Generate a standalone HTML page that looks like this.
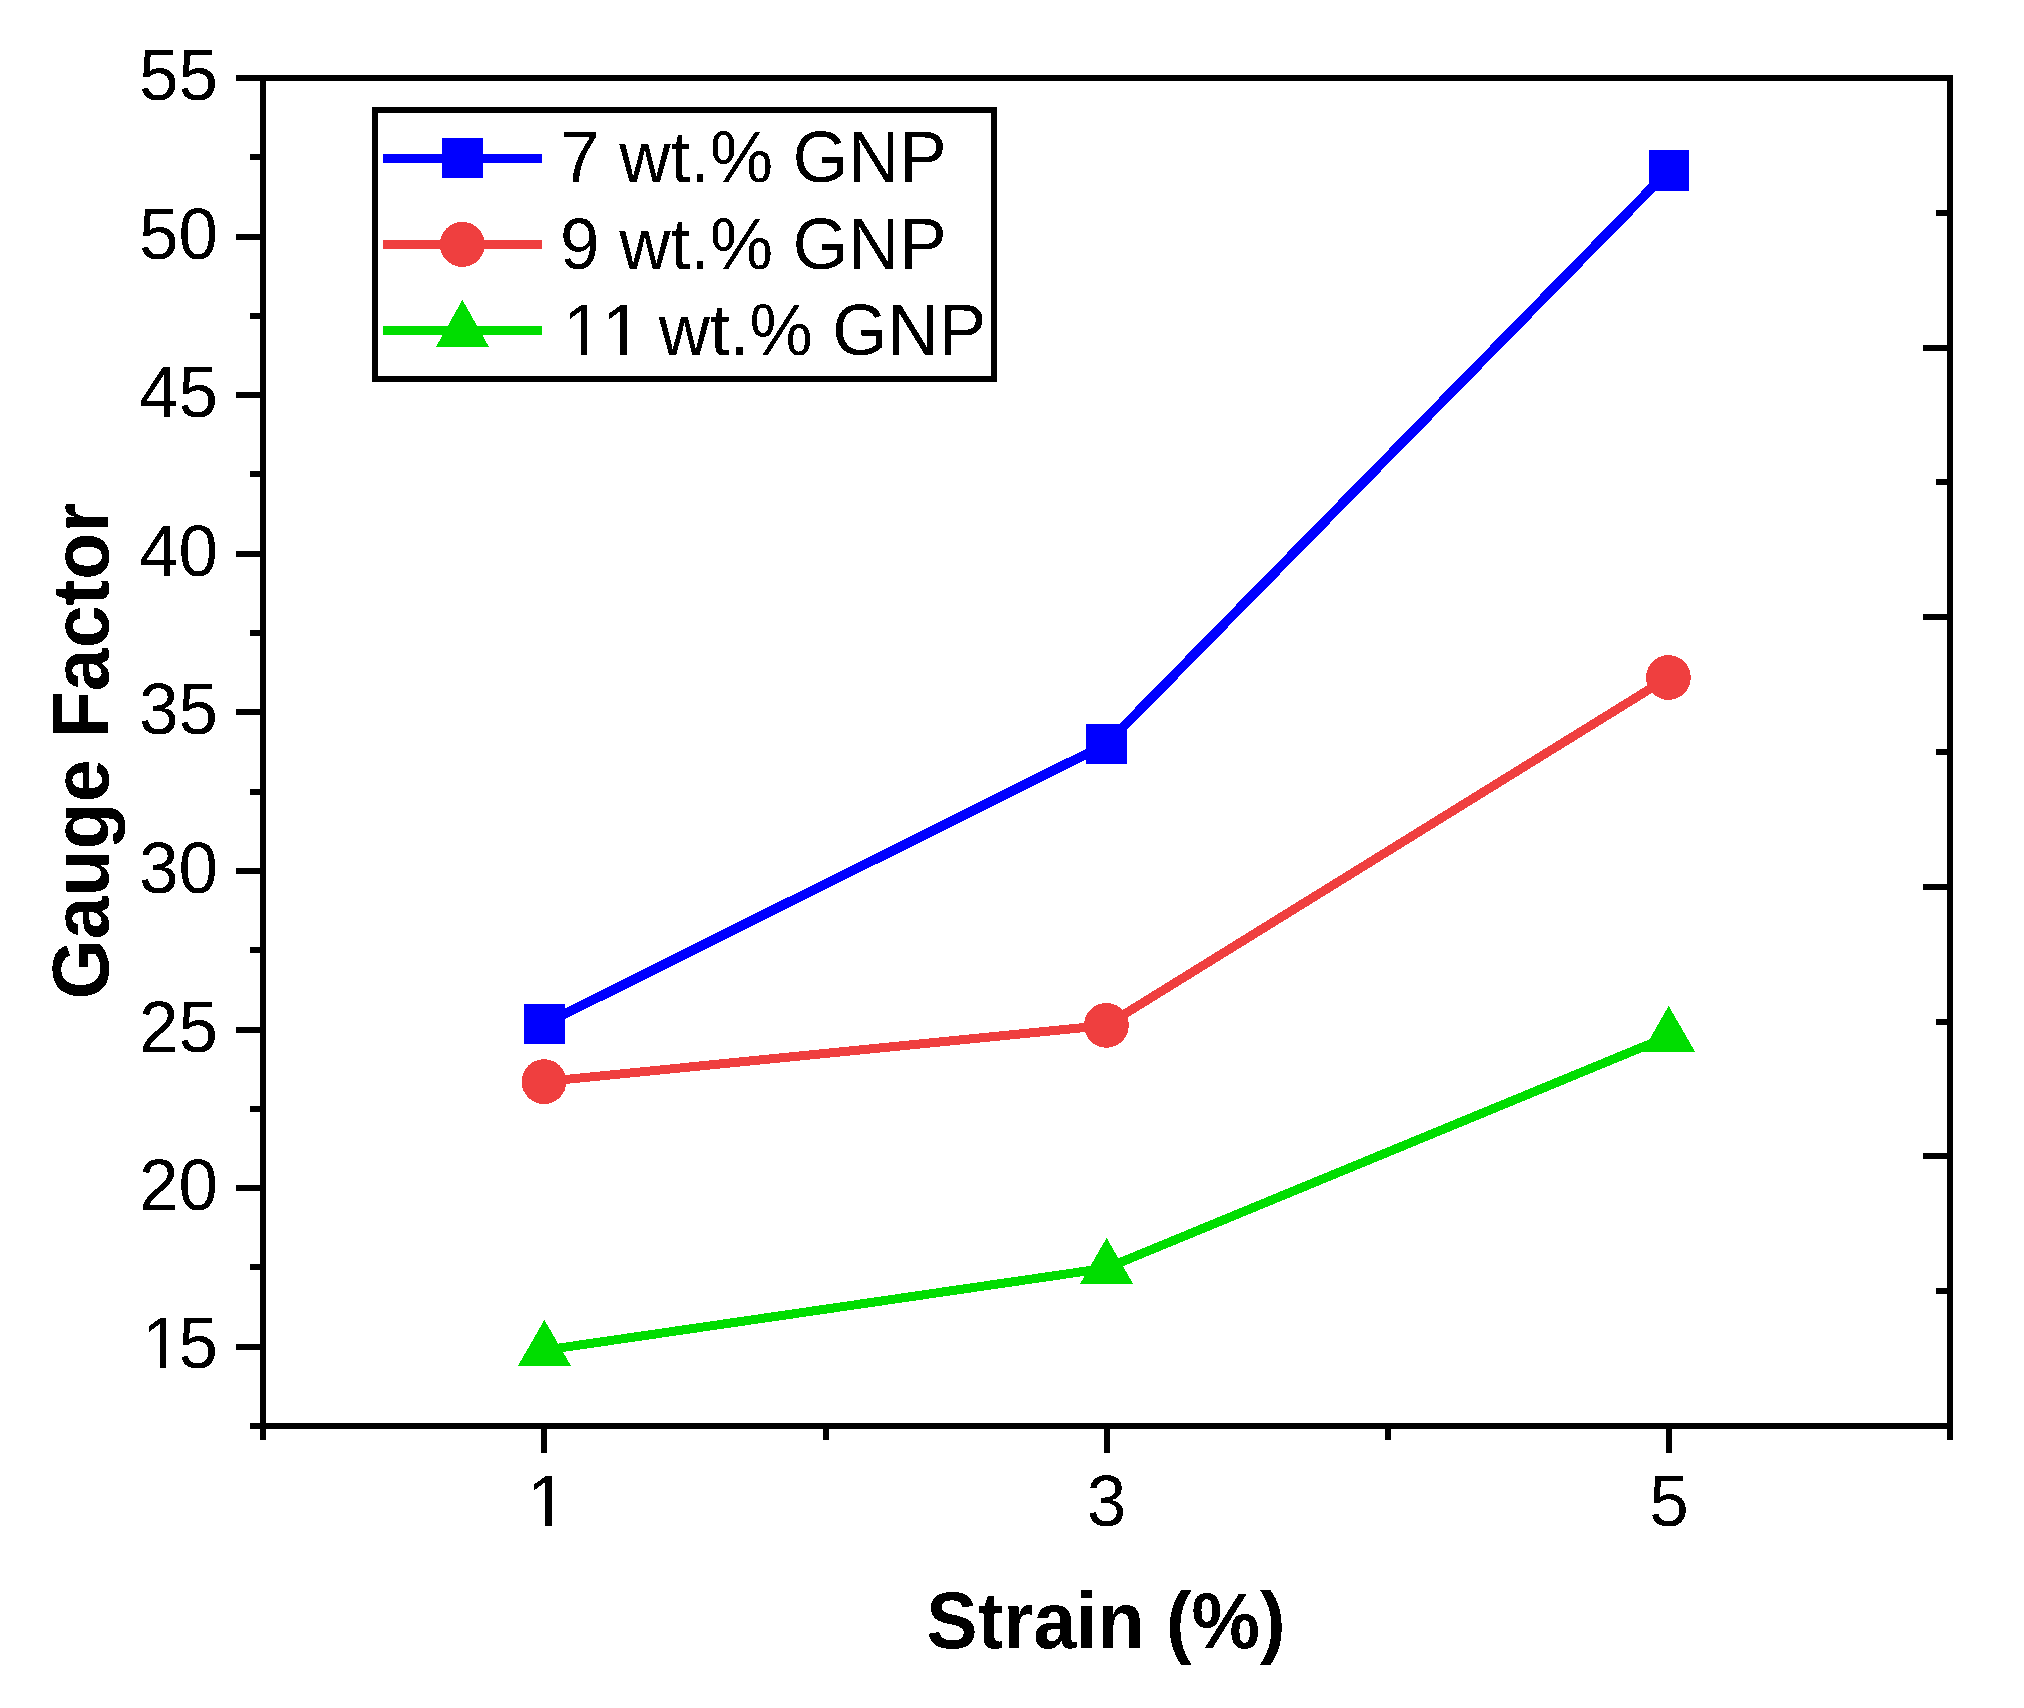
<!DOCTYPE html>
<html><head><meta charset="utf-8"><title>Gauge Factor vs Strain</title>
<style>
html,body{margin:0;padding:0;background:#fff;}
body{width:2024px;height:1708px;overflow:hidden;}
svg{display:block;}
text{font-family:"Liberation Sans",Arial,sans-serif;fill:#000;font-kerning:none;font-feature-settings:"kern" 0;}
</style></head><body>
<svg width="2024" height="1708" viewBox="0 0 2024 1708">
<defs><filter id="bin" x="-5%" y="-5%" width="110%" height="110%" color-interpolation-filters="sRGB"><feComponentTransfer><feFuncA type="discrete" tableValues="0 1"/></feComponentTransfer></filter></defs>
<rect x="0" y="0" width="2024" height="1708" fill="#fff"/>
<g stroke="#000" stroke-width="6" fill="none" shape-rendering="crispEdges">
<rect x="263" y="78" width="1687" height="1348"/>
<line x1="236" y1="78" x2="263" y2="78"/>
<line x1="250" y1="157" x2="263" y2="157"/>
<line x1="236" y1="237" x2="263" y2="237"/>
<line x1="250" y1="316" x2="263" y2="316"/>
<line x1="236" y1="395" x2="263" y2="395"/>
<line x1="250" y1="474" x2="263" y2="474"/>
<line x1="236" y1="554" x2="263" y2="554"/>
<line x1="250" y1="633" x2="263" y2="633"/>
<line x1="236" y1="712" x2="263" y2="712"/>
<line x1="250" y1="792" x2="263" y2="792"/>
<line x1="236" y1="871" x2="263" y2="871"/>
<line x1="250" y1="950" x2="263" y2="950"/>
<line x1="236" y1="1030" x2="263" y2="1030"/>
<line x1="250" y1="1109" x2="263" y2="1109"/>
<line x1="236" y1="1188" x2="263" y2="1188"/>
<line x1="250" y1="1267" x2="263" y2="1267"/>
<line x1="236" y1="1347" x2="263" y2="1347"/>
<line x1="250" y1="1426" x2="263" y2="1426"/>
<line x1="1950" y1="212.7" x2="1936" y2="212.7"/>
<line x1="1950" y1="347.5" x2="1923" y2="347.5"/>
<line x1="1950" y1="482.3" x2="1936" y2="482.3"/>
<line x1="1950" y1="617.1" x2="1923" y2="617.1"/>
<line x1="1950" y1="751.9" x2="1936" y2="751.9"/>
<line x1="1950" y1="886.7" x2="1923" y2="886.7"/>
<line x1="1950" y1="1021.5" x2="1936" y2="1021.5"/>
<line x1="1950" y1="1156.3" x2="1923" y2="1156.3"/>
<line x1="1950" y1="1291.1" x2="1936" y2="1291.1"/>
<line x1="263.0" y1="1426" x2="263.0" y2="1440"/>
<line x1="544.0" y1="1426" x2="544.0" y2="1453"/>
<line x1="826.0" y1="1426" x2="826.0" y2="1440"/>
<line x1="1107.0" y1="1426" x2="1107.0" y2="1453"/>
<line x1="1388.0" y1="1426" x2="1388.0" y2="1440"/>
<line x1="1669.0" y1="1426" x2="1669.0" y2="1453"/>
<line x1="1950.0" y1="1426" x2="1950.0" y2="1440"/>
</g>
<g filter="url(#bin)">
<text transform="translate(142.0,1368.4) scale(1,1.02)" font-size="71" text-anchor="start">1</text>
<text transform="translate(178.5,1368.4) scale(1,1.02)" font-size="71" text-anchor="start">5</text>
<text transform="translate(218.0,1209.9) scale(1,1.02)" font-size="71" text-anchor="end">20</text>
<text transform="translate(218.0,1052.2) scale(1,1.02)" font-size="71" text-anchor="end">25</text>
<text transform="translate(218.0,892.9) scale(1,1.02)" font-size="71" text-anchor="end">30</text>
<text transform="translate(218.0,734.4) scale(1,1.02)" font-size="71" text-anchor="end">35</text>
<text transform="translate(218.0,575.9) scale(1,1.02)" font-size="71" text-anchor="end">40</text>
<text transform="translate(218.0,417.4) scale(1,1.02)" font-size="71" text-anchor="end">45</text>
<text transform="translate(218.0,258.9) scale(1,1.02)" font-size="71" text-anchor="end">50</text>
<text transform="translate(218.0,100.4) scale(1,1.02)" font-size="71" text-anchor="end">55</text>
<text transform="translate(547.2,1526.0) scale(1,1.02)" font-size="71" text-anchor="middle">1</text>
<text transform="translate(1106.5,1526.0) scale(1,1.02)" font-size="71" text-anchor="middle">3</text>
<text transform="translate(1668.9,1526.0) scale(1,1.02)" font-size="71" text-anchor="middle">5</text>
<text transform="translate(1106,1648) scale(1,1.03)" font-size="77" font-weight="bold" text-anchor="middle">Strain (%)</text>
<text transform="translate(108.5,751) rotate(-90) scale(1,1.03)" font-size="77" font-weight="bold" text-anchor="middle">Gauge Factor</text>
</g>
<polyline points="544.3,1350.2 1106.6,1268.1 1668.6,1036.3" fill="none" stroke="#00DD00" stroke-width="9" stroke-linejoin="round" shape-rendering="crispEdges"/>
<polyline points="544.0,1081.6 1106.4,1025.3 1668.4,677.5" fill="none" stroke="#EF3F3F" stroke-width="9" stroke-linejoin="round" shape-rendering="crispEdges"/>
<polyline points="544.5,1024.0 1106.5,744.0 1669.0,170.4" fill="none" stroke="#0000FF" stroke-width="9.7" stroke-linejoin="round" shape-rendering="crispEdges"/>
<rect x="524" y="1004" width="41" height="40" fill="#0000FF" shape-rendering="crispEdges"/>
<rect x="1086" y="724" width="41" height="40" fill="#0000FF" shape-rendering="crispEdges"/>
<rect x="1649" y="150" width="40" height="41" fill="#0000FF" shape-rendering="crispEdges"/>
<circle cx="544.00" cy="1081.60" r="22.4" fill="#EF3F3F" shape-rendering="crispEdges"/>
<circle cx="1106.40" cy="1025.35" r="22.4" fill="#EF3F3F" shape-rendering="crispEdges"/>
<circle cx="1668.40" cy="677.50" r="22.4" fill="#EF3F3F" shape-rendering="crispEdges"/>
<polygon points="544.4,1319.9 571.1,1366.0 517.9,1366.0" fill="#00DD00" shape-rendering="crispEdges"/>
<polygon points="1106.6,1237.9 1133.1,1283.9 1080.0,1283.9" fill="#00DD00" shape-rendering="crispEdges"/>
<polygon points="1668.7,1005.9 1695.1,1051.9 1642.3,1051.9" fill="#00DD00" shape-rendering="crispEdges"/>
<rect x="375" y="110" width="619" height="269" fill="none" stroke="#000" stroke-width="6" shape-rendering="crispEdges"/>
<line x1="383" y1="158.4" x2="542" y2="158.4" stroke="#0000FF" stroke-width="9" shape-rendering="crispEdges"/>
<rect x="442" y="138" width="41" height="40" fill="#0000FF" shape-rendering="crispEdges"/>
<line x1="383" y1="244.6" x2="542" y2="244.6" stroke="#EF3F3F" stroke-width="9" shape-rendering="crispEdges"/>
<circle cx="462.30" cy="244.40" r="22.5" fill="#EF3F3F" shape-rendering="crispEdges"/>
<line x1="383" y1="330.5" x2="542" y2="330.5" stroke="#00DD00" stroke-width="9" shape-rendering="crispEdges"/>
<polygon points="462.4,299.9 489.0,347.0 435.9,347.0" fill="#00DD00" shape-rendering="crispEdges"/>
<g filter="url(#bin)">
<text transform="translate(560.0,182.4) scale(1,1.02)" font-size="71" text-anchor="start">7 wt.% GNP</text>
<text transform="translate(560.0,268.6) scale(1,1.02)" font-size="71" text-anchor="start">9 wt.% GNP</text>
<text transform="translate(560.0,355.0) scale(1,1.02)" font-size="71" text-anchor="start"><tspan dx="3">11</tspan><tspan dx="-3"> wt.% GNP</tspan></text>
</g>
<rect x="147" y="1362" width="13" height="6" fill="#fff"/>
<rect x="166" y="1362" width="12" height="6" fill="#fff"/>
<rect x="533" y="1521" width="12" height="5" fill="#fff"/>
<rect x="552" y="1521" width="12" height="5" fill="#fff"/>
<rect x="568" y="349" width="13" height="6" fill="#fff"/>
<rect x="587" y="349" width="12" height="6" fill="#fff"/>
<rect x="608" y="350" width="12" height="5" fill="#fff"/>
<rect x="627" y="350" width="12" height="5" fill="#fff"/>
</svg></body></html>
